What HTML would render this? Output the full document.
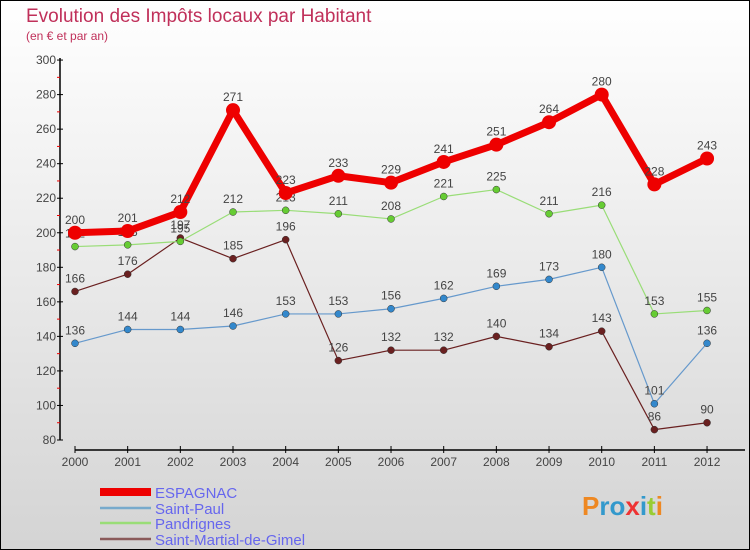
<!DOCTYPE html>
<html><head><meta charset="utf-8"><style>
body{margin:0}
#c{width:750px;height:550px;position:relative;box-sizing:border-box;border:1px solid #000;background:linear-gradient(#ffffff,#d4d4d4);overflow:hidden;font-family:"Liberation Sans",sans-serif}
</style></head><body>
<div id="c">
<svg width="750" height="550" style="position:absolute;left:-1px;top:-1px" id="svg">
<text x="26" y="22" font-size="19" fill="#c0305a">Evolution des Impôts locaux par Habitant</text>
<text x="26" y="40" font-size="12" fill="#c0305a">(en € et par an)</text>
<g id="axes"></g><g id="series"></g><g id="legend"></g>
</svg></div>
<script>
const years=["2000","2001","2002","2003","2004","2005","2006","2007","2008","2009","2010","2011","2012"];
const yTicks=[80,100,120,140,160,180,200,220,240,260,280,300];
const espagnac=[200,201,212,271,223,233,229,241,251,264,280,228,243];
const saintPaul=[136,144,144,146,153,153,156,162,169,173,180,101,136];
const pandrignes=[192,193,195,212,213,211,208,221,225,211,216,153,155];
const saintMartial=[166,176,197,185,196,126,132,132,140,134,143,86,90];
const seriesNames=["ESPAGNAC","Saint-Paul","Pandrignes","Saint-Martial-de-Gimel"];
const NS="http://www.w3.org/2000/svg";
function X(i){return 75+i*52.67;}
function Y(v){return 440-(v-80)*1.727;}
function mk(tag,attrs,parent){const e=document.createElementNS(NS,tag);for(const k in attrs)e.setAttribute(k,attrs[k]);parent.appendChild(e);return e;}
const ax=document.getElementById('axes');
let a=mk('line',{x1:60,y1:Y(300)-2,x2:60,y2:Y(80),stroke:'#000','stroke-width':1.5},ax);


a=mk('line',{x1:75,y1:450,x2:745,y2:450,stroke:'#000','stroke-width':1.5},ax);


yTicks.forEach((v,i)=>{
 mk('line',{x1:57,y1:Y(v),x2:63,y2:Y(v),stroke:'#000'},ax);
 if(i<yTicks.length-1) mk('line',{x1:57,y1:Y(v+10),x2:60,y2:Y(v+10),stroke:'#e00'},ax);
 const t=mk('text',{x:56,y:Y(v)+4,'text-anchor':'end','font-size':12,fill:'#444'},ax);t.textContent=v;
 
 
});
years.forEach((y,i)=>{
 mk('line',{x1:X(i),y1:446,x2:X(i),y2:453,stroke:'#000'},ax);
 const t=mk('text',{x:X(i),y:466,'text-anchor':'middle','font-size':12,fill:'#444'},ax);t.textContent=y;
 
 
});
const sg=document.getElementById('series');
const defs=[[saintMartial,'#6a2020','#6a2020',1.2,3.5,'series-saint-martial'],[pandrignes,'#99dd77','#66cc33',1.2,3.5,'series-pandrignes'],[saintPaul,'#6699cc','#3388cc',1.2,3.5,'series-saint-paul'],[espagnac,'#ee0000','#ee0000',7,7,'series-espagnac']];
defs.forEach(([d,lc,pc,w,r,name])=>{
 const g=mk('g',{},sg);
 
 
 mk('polyline',{points:d.map((v,i)=>X(i)+','+Y(v)).join(' '),fill:'none',stroke:lc,'stroke-width':w,'stroke-linejoin':'round'},g);
 d.forEach((v,i)=>{
  const c=mk('circle',{cx:X(i),cy:Y(v),r:r,fill:pc,stroke:r>5?'none':'#333','stroke-width':0.5},g);
  
  
  const t=mk('text',{x:X(i),y:Y(v)-9,'text-anchor':'middle','font-size':12,fill:'#444'},g);t.textContent=v;
  
  
 });
});
const lg=document.getElementById('legend');
const lcols=['#ee0000','#77aacc','#99dd77','#8a5a5a'],lw=[8,2.5,2.5,2.5],ly=[492,508,523,539];
seriesNames.forEach((n,i)=>{
 const g=mk('g',{},lg);
 
 
 mk('line',{x1:100,y1:ly[i],x2:151,y2:ly[i],stroke:lcols[i],'stroke-width':lw[i]},g);
 const t=mk('text',{x:155,y:ly[i]+6,'font-size':15,fill:'#6666ee'},g);t.textContent=n;
});
const p=mk('text',{x:582,y:515,'font-size':26,'font-weight':'bold',fill:'#3399cc'},lg);
p.innerHTML='<tspan fill="#ee8822">P</tspan><tspan fill="#3399cc">ro</tspan><tspan fill="#ee3333">x</tspan><tspan fill="#3399cc">i</tspan><tspan fill="#99cc33">t</tspan><tspan fill="#ee8822">i</tspan>';


</script>
</body></html>
